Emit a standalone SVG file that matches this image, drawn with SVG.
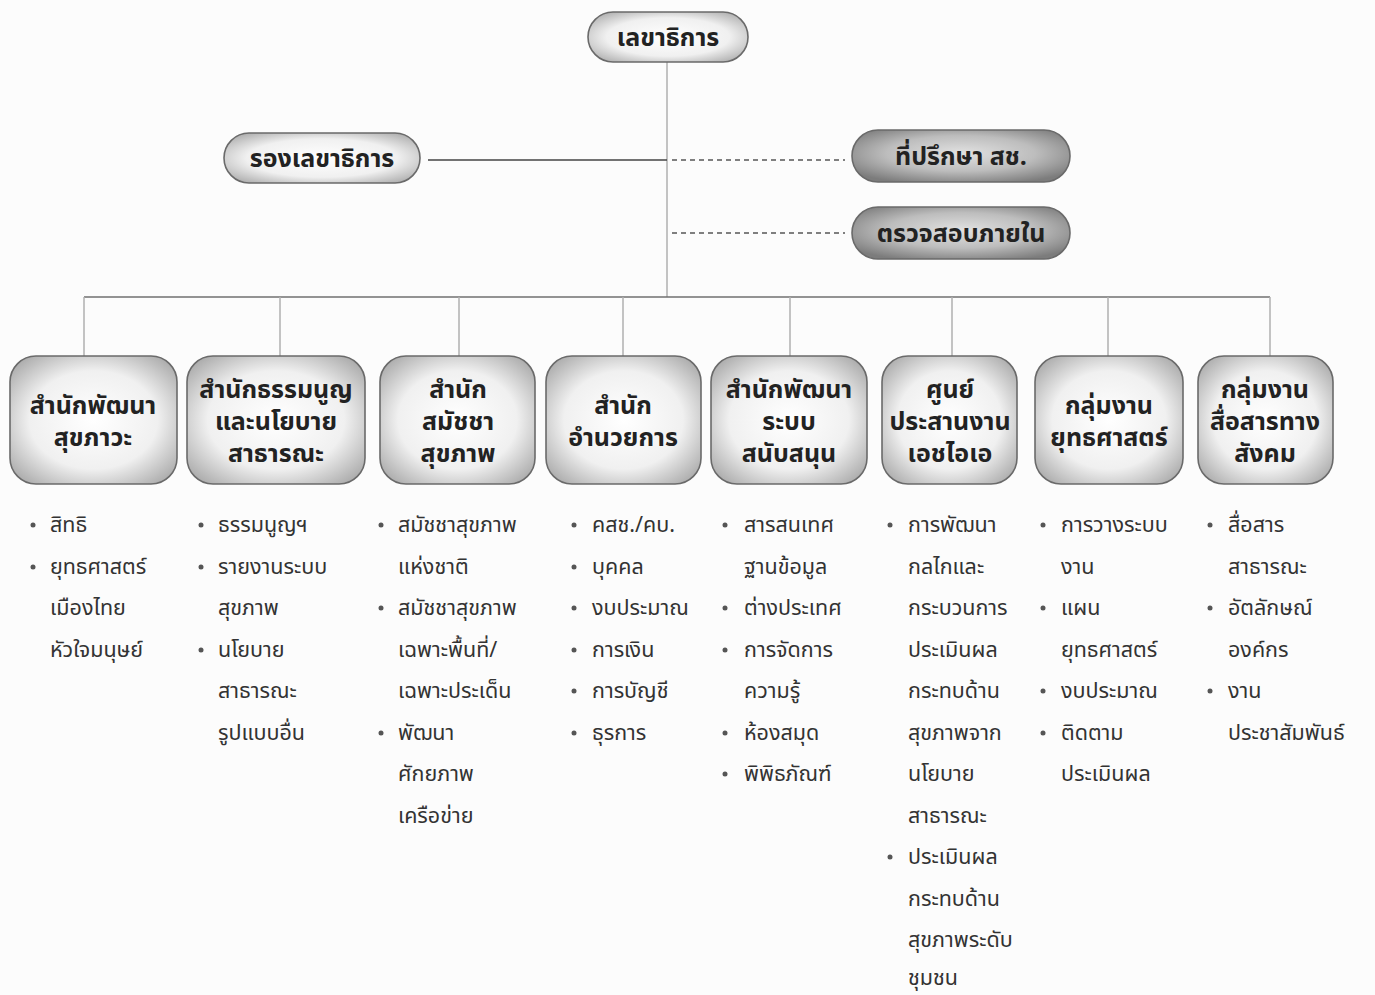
<svg xmlns="http://www.w3.org/2000/svg" width="1375" height="995" viewBox="0 0 1375 995">
<defs>
<radialGradient id="gLight" cx="50%" cy="50%" r="64%">
<stop offset="0%" stop-color="#ffffff"/>
<stop offset="60%" stop-color="#f0f0f0"/>
<stop offset="100%" stop-color="#ababab"/>
</radialGradient>
<radialGradient id="gDark" cx="50%" cy="45%" r="62%">
<stop offset="0%" stop-color="#e2e2e2"/>
<stop offset="55%" stop-color="#bdbdbd"/>
<stop offset="100%" stop-color="#7c7c7c"/>
</radialGradient>
<style>
.box{fill:url(#gLight);stroke:#6a6a6a;stroke-width:1.6}
.dbox{fill:url(#gDark);stroke:#6a6a6a;stroke-width:1.6}
.lbl{font-family:"Noto Sans Thai","Noto Sans","DejaVu Sans",sans-serif;font-weight:700;font-size:25px;fill:#222;text-anchor:middle}
.item{font-family:"Noto Sans Thai","Noto Sans","DejaVu Sans",sans-serif;font-weight:400;font-size:21.5px;fill:#333}
.thin{stroke:#b0b0b0;stroke-width:1.5;fill:none}
.bus{stroke:#707070;stroke-width:1.5;fill:none}
.solid{stroke:#444;stroke-width:1.5;fill:none}
.dash{stroke:#555;stroke-width:1.5;stroke-dasharray:5 4;fill:none}
.dot{fill:#555}
</style>
</defs>
<rect width="1375" height="995" fill="#fcfcfc"/>

<g id="connectors">
<line class="thin" x1="667" y1="62" x2="667" y2="297"/>
<line class="solid" x1="428" y1="160" x2="667" y2="160"/>
<line class="dash" x1="672" y1="160" x2="845" y2="160"/>
<line class="dash" x1="672" y1="233" x2="845" y2="233"/>
<line class="bus" x1="84" y1="297" x2="1270" y2="297"/>
<line class="thin" x1="84" y1="297" x2="84" y2="356"/>
<line class="thin" x1="280" y1="297" x2="280" y2="356"/>
<line class="thin" x1="459" y1="297" x2="459" y2="356"/>
<line class="thin" x1="623" y1="297" x2="623" y2="356"/>
<line class="thin" x1="790" y1="297" x2="790" y2="356"/>
<line class="thin" x1="952" y1="297" x2="952" y2="356"/>
<line class="thin" x1="1108" y1="297" x2="1108" y2="356"/>
<line class="thin" x1="1270" y1="297" x2="1270" y2="356"/>
</g>

<g id="n-secretary">
<rect class="box" x="588" y="12" width="160" height="50" rx="25"/>
<text class="lbl" x="668" y="46">เลขาธิการ</text>
</g>
<g id="n-deputy">
<rect class="box" x="224" y="133" width="196" height="50" rx="25"/>
<text class="lbl" x="322" y="167">รองเลขาธิการ</text>
</g>
<g id="n-advisor">
<rect class="dbox" x="852" y="130" width="218" height="52" rx="26"/>
<text class="lbl" x="961" y="165">ที่ปรึกษา สช.</text>
</g>
<g id="n-audit">
<rect class="dbox" x="852" y="207" width="218" height="52" rx="26"/>
<text class="lbl" x="961" y="242">ตรวจสอบภายใน</text>
</g>

<g id="n-b1">
<rect class="box" x="10" y="356" width="167" height="128" rx="26"/>
<text class="lbl" x="93" y="414">สำนักพัฒนา<tspan x="93" dy="32">สุขภาวะ</tspan></text>
</g>
<g id="n-b2">
<rect class="box" x="187" y="356" width="178" height="128" rx="26"/>
<text class="lbl" x="276" y="398">สำนักธรรมนูญ<tspan x="276" dy="32">และนโยบาย</tspan><tspan x="276" dy="32">สาธารณะ</tspan></text>
</g>
<g id="n-b3">
<rect class="box" x="380" y="356" width="155" height="128" rx="26"/>
<text class="lbl" x="458" y="398">สำนัก<tspan x="458" dy="32">สมัชชา</tspan><tspan x="458" dy="32">สุขภาพ</tspan></text>
</g>
<g id="n-b4">
<rect class="box" x="546" y="356" width="155" height="128" rx="26"/>
<text class="lbl" x="623" y="414">สำนัก<tspan x="623" dy="32">อำนวยการ</tspan></text>
</g>
<g id="n-b5">
<rect class="box" x="711" y="356" width="156" height="128" rx="26"/>
<text class="lbl" x="789" y="398">สำนักพัฒนา<tspan x="789" dy="32">ระบบ</tspan><tspan x="789" dy="32">สนับสนุน</tspan></text>
</g>
<g id="n-b6">
<rect class="box" x="882" y="356" width="135" height="128" rx="26"/>
<text class="lbl" x="950" y="398">ศูนย์<tspan x="950" dy="32">ประสานงาน</tspan><tspan x="950" dy="32">เอชไอเอ</tspan></text>
</g>
<g id="n-b7">
<rect class="box" x="1035" y="356" width="148" height="128" rx="26"/>
<text class="lbl" x="1109" y="414">กลุ่มงาน<tspan x="1109" dy="32">ยุทธศาสตร์</tspan></text>
</g>
<g id="n-b8">
<rect class="box" x="1198" y="356" width="135" height="128" rx="26"/>
<text class="lbl" x="1265" y="398">กลุ่มงาน<tspan x="1265" dy="32">สื่อสารทาง</tspan><tspan x="1265" dy="32">สังคม</tspan></text>
</g>

<g id="list1">
<circle class="dot" cx="33" cy="525" r="2.5"/>
<circle class="dot" cx="33" cy="567" r="2.5"/>
<text class="item" x="50" y="532">สิทธิ<tspan x="50" dy="42">ยุทธศาสตร์</tspan><tspan x="50" dy="41">เมืองไทย</tspan><tspan x="50" dy="42">หัวใจมนุษย์</tspan></text>
</g>
<g id="list2">
<circle class="dot" cx="201" cy="525" r="2.5"/>
<circle class="dot" cx="201" cy="567" r="2.5"/>
<circle class="dot" cx="201" cy="650" r="2.5"/>
<text class="item" x="218" y="532">ธรรมนูญฯ<tspan x="218" dy="42">รายงานระบบ</tspan><tspan x="218" dy="41">สุขภาพ</tspan><tspan x="218" dy="42">นโยบาย</tspan><tspan x="218" dy="41">สาธารณะ</tspan><tspan x="218" dy="42">รูปแบบอื่น</tspan></text>
</g>
<g id="list3">
<circle class="dot" cx="381" cy="525" r="2.5"/>
<circle class="dot" cx="381" cy="608" r="2.5"/>
<circle class="dot" cx="381" cy="733" r="2.5"/>
<text class="item" x="398" y="532">สมัชชาสุขภาพ<tspan x="398" dy="42">แห่งชาติ</tspan><tspan x="398" dy="41">สมัชชาสุขภาพ</tspan><tspan x="398" dy="42">เฉพาะพื้นที่/</tspan><tspan x="398" dy="41">เฉพาะประเด็น</tspan><tspan x="398" dy="42">พัฒนา</tspan><tspan x="398" dy="41">ศักยภาพ</tspan><tspan x="398" dy="42">เครือข่าย</tspan></text>
</g>
<g id="list4">
<circle class="dot" cx="574" cy="525" r="2.5"/>
<circle class="dot" cx="574" cy="567" r="2.5"/>
<circle class="dot" cx="574" cy="608" r="2.5"/>
<circle class="dot" cx="574" cy="650" r="2.5"/>
<circle class="dot" cx="574" cy="691" r="2.5"/>
<circle class="dot" cx="574" cy="733" r="2.5"/>
<text class="item" x="592" y="532">คสช./คบ.<tspan x="592" dy="42">บุคคล</tspan><tspan x="592" dy="41">งบประมาณ</tspan><tspan x="592" dy="42">การเงิน</tspan><tspan x="592" dy="41">การบัญชี</tspan><tspan x="592" dy="42">ธุรการ</tspan></text>
</g>
<g id="list5">
<circle class="dot" cx="725" cy="525" r="2.5"/>
<circle class="dot" cx="725" cy="608" r="2.5"/>
<circle class="dot" cx="725" cy="650" r="2.5"/>
<circle class="dot" cx="725" cy="733" r="2.5"/>
<circle class="dot" cx="725" cy="774" r="2.5"/>
<text class="item" x="744" y="532">สารสนเทศ<tspan x="744" dy="42">ฐานข้อมูล</tspan><tspan x="744" dy="41">ต่างประเทศ</tspan><tspan x="744" dy="42">การจัดการ</tspan><tspan x="744" dy="41">ความรู้</tspan><tspan x="744" dy="42">ห้องสมุด</tspan><tspan x="744" dy="41">พิพิธภัณฑ์</tspan></text>
</g>
<g id="list6">
<circle class="dot" cx="890" cy="525" r="2.5"/>
<circle class="dot" cx="890" cy="857" r="2.5"/>
<text class="item" x="908" y="532">การพัฒนา<tspan x="908" dy="42">กลไกและ</tspan><tspan x="908" dy="41">กระบวนการ</tspan><tspan x="908" dy="42">ประเมินผล</tspan><tspan x="908" dy="41">กระทบด้าน</tspan><tspan x="908" dy="42">สุขภาพจาก</tspan><tspan x="908" dy="41">นโยบาย</tspan><tspan x="908" dy="42">สาธารณะ</tspan><tspan x="908" dy="41">ประเมินผล</tspan><tspan x="908" dy="42">กระทบด้าน</tspan><tspan x="908" dy="41">สุขภาพระดับ</tspan><tspan x="908" dy="38">ชุมชน</tspan></text>
</g>
<g id="list7">
<circle class="dot" cx="1043" cy="525" r="2.5"/>
<circle class="dot" cx="1043" cy="608" r="2.5"/>
<circle class="dot" cx="1043" cy="691" r="2.5"/>
<circle class="dot" cx="1043" cy="733" r="2.5"/>
<text class="item" x="1061" y="532">การวางระบบ<tspan x="1061" dy="42">งาน</tspan><tspan x="1061" dy="41">แผน</tspan><tspan x="1061" dy="42">ยุทธศาสตร์</tspan><tspan x="1061" dy="41">งบประมาณ</tspan><tspan x="1061" dy="42">ติดตาม</tspan><tspan x="1061" dy="41">ประเมินผล</tspan></text>
</g>
<g id="list8">
<circle class="dot" cx="1210" cy="525" r="2.5"/>
<circle class="dot" cx="1210" cy="608" r="2.5"/>
<circle class="dot" cx="1210" cy="691" r="2.5"/>
<text class="item" x="1228" y="532">สื่อสาร<tspan x="1228" dy="42">สาธารณะ</tspan><tspan x="1228" dy="41">อัตลักษณ์</tspan><tspan x="1228" dy="42">องค์กร</tspan><tspan x="1228" dy="41">งาน</tspan><tspan x="1228" dy="42">ประชาสัมพันธ์</tspan></text>
</g>
</svg>
